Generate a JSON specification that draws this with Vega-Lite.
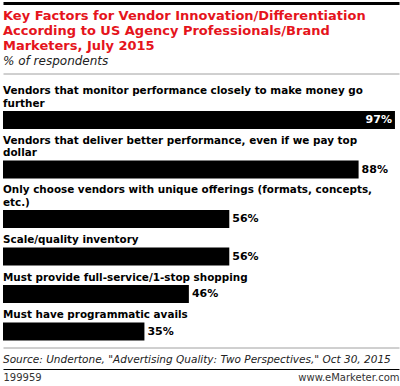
{
  "$schema": "https://vega.github.io/schema/vega-lite/v6.json",
  "padding": {"left": 3, "right": 1, "top": 3, "bottom": 1},
  "background": "white",
  "datasets": {
    "d": [
      {"rank": 1, "factor": "Vendors that monitor performance closely to make money go further", "share": 0.97},
      {"rank": 2, "factor": "Vendors that deliver better performance, even if we pay top dollar", "share": 0.88},
      {"rank": 3, "factor": "Only choose vendors with unique offerings (formats, concepts, etc.)", "share": 0.56},
      {"rank": 4, "factor": "Scale/quality inventory", "share": 0.56},
      {"rank": 5, "factor": "Must provide full-service/1-stop shopping", "share": 0.46},
      {"rank": 6, "factor": "Must have programmatic avails", "share": 0.35}
    ]
  },
  "data": {"name": "d"},
  "config": {
    "font": "DejaVu Sans",
    "view": {"stroke": null},
    "concat": {"spacing": 6.5},
    "title": {"anchor": "start", "font": "DejaVu Sans", "fontSize": 10.4, "fontWeight": "bold", "color": "#000", "lineHeight": 12.5, "offset": 2}
  },
  "vconcat": [
    {
      "width": 396, "height": 1,
      "title": {
        "text": ["Key Factors for Vendor Innovation/Differentiation", "According to US Agency Professionals/Brand", "Marketers, July 2015"],
        "subtitle": "% of respondents",
        "orient": "bottom", "anchor": "start",
        "color": "#e5141c", "fontSize": 13, "fontWeight": "bold", "lineHeight": 15,
        "subtitleFont": "DejaVu Sans", "subtitleFontStyle": "italic", "subtitleFontSize": 12, "subtitleColor": "#222", "subtitlePadding": 3,
        "offset": 6
      },
      "transform": [{"filter": "false"}],
      "mark": "bar",
      "encoding": {"x": {"field": "share", "type": "quantitative", "scale": {"domain": [0, 0.98]},
        "axis": {"orient": "top", "title": null, "labels": false, "ticks": false, "grid": false, "domainColor": "#000", "domainWidth": 3}}}
    },
    {
      "width": 396, "height": 6,
      "transform": [{"filter": "false"}],
      "mark": "bar",
      "encoding": {"x": {"field": "share", "type": "quantitative", "scale": {"domain": [0, 0.98]},
        "axis": {"orient": "top", "title": null, "labels": false, "ticks": false, "grid": false, "domainColor": "#a0a0a0", "domainWidth": 1}}}
    },
    {
      "width": 396, "height": 18,
      "title": {"text": ["Vendors that monitor performance closely to make money go", "further"]},
      "transform": [{"filter": "datum.rank == 1"}],
      "encoding": {
        "y": {"field": "factor", "type": "nominal", "axis": null, "scale": {"paddingInner": 0, "paddingOuter": 0}},
        "x": {"field": "share", "type": "quantitative", "axis": null, "scale": {"domain": [0, 0.98]}}
      },
      "layer": [
        {"mark": {"type": "bar", "color": "#000"}},
        {"mark": {"type": "text", "align": "right", "dx": -3, "fontWeight": "bold", "fontSize": 11, "color": "#fff"}, "encoding": {"text": {"field": "share", "type": "quantitative", "format": ".0%"}}}
      ]
    },
    {
      "width": 396, "height": 18,
      "title": {"text": ["Vendors that deliver better performance, even if we pay top", "dollar"]},
      "transform": [{"filter": "datum.rank == 2"}],
      "encoding": {
        "y": {"field": "factor", "type": "nominal", "axis": null, "scale": {"paddingInner": 0, "paddingOuter": 0}},
        "x": {"field": "share", "type": "quantitative", "axis": null, "scale": {"domain": [0, 0.98]}}
      },
      "layer": [
        {"mark": {"type": "bar", "color": "#000"}},
        {"mark": {"type": "text", "align": "left", "dx": 3, "fontWeight": "bold", "fontSize": 11, "color": "#000"}, "encoding": {"text": {"field": "share", "type": "quantitative", "format": ".0%"}}}
      ]
    },
    {
      "width": 396, "height": 18,
      "title": {"text": ["Only choose vendors with unique offerings (formats, concepts,", "etc.)"]},
      "transform": [{"filter": "datum.rank == 3"}],
      "encoding": {
        "y": {"field": "factor", "type": "nominal", "axis": null, "scale": {"paddingInner": 0, "paddingOuter": 0}},
        "x": {"field": "share", "type": "quantitative", "axis": null, "scale": {"domain": [0, 0.98]}}
      },
      "layer": [
        {"mark": {"type": "bar", "color": "#000"}},
        {"mark": {"type": "text", "align": "left", "dx": 3, "fontWeight": "bold", "fontSize": 11, "color": "#000"}, "encoding": {"text": {"field": "share", "type": "quantitative", "format": ".0%"}}}
      ]
    },
    {
      "width": 396, "height": 18,
      "title": {"text": "Scale/quality inventory"},
      "transform": [{"filter": "datum.rank == 4"}],
      "encoding": {
        "y": {"field": "factor", "type": "nominal", "axis": null, "scale": {"paddingInner": 0, "paddingOuter": 0}},
        "x": {"field": "share", "type": "quantitative", "axis": null, "scale": {"domain": [0, 0.98]}}
      },
      "layer": [
        {"mark": {"type": "bar", "color": "#000"}},
        {"mark": {"type": "text", "align": "left", "dx": 3, "fontWeight": "bold", "fontSize": 11, "color": "#000"}, "encoding": {"text": {"field": "share", "type": "quantitative", "format": ".0%"}}}
      ]
    },
    {
      "width": 396, "height": 18,
      "title": {"text": "Must provide full-service/1-stop shopping"},
      "transform": [{"filter": "datum.rank == 5"}],
      "encoding": {
        "y": {"field": "factor", "type": "nominal", "axis": null, "scale": {"paddingInner": 0, "paddingOuter": 0}},
        "x": {"field": "share", "type": "quantitative", "axis": null, "scale": {"domain": [0, 0.98]}}
      },
      "layer": [
        {"mark": {"type": "bar", "color": "#000"}},
        {"mark": {"type": "text", "align": "left", "dx": 3, "fontWeight": "bold", "fontSize": 11, "color": "#000"}, "encoding": {"text": {"field": "share", "type": "quantitative", "format": ".0%"}}}
      ]
    },
    {
      "width": 396, "height": 18,
      "title": {"text": "Must have programmatic avails"},
      "transform": [{"filter": "datum.rank == 6"}],
      "encoding": {
        "y": {"field": "factor", "type": "nominal", "axis": null, "scale": {"paddingInner": 0, "paddingOuter": 0}},
        "x": {"field": "share", "type": "quantitative", "scale": {"domain": [0, 0.98]},
              "axis": {"orient": "bottom", "title": null, "labels": false, "ticks": false, "grid": false, "domainColor": "#a0a0a0", "offset": 7}}
      },
      "layer": [
        {"mark": {"type": "bar", "color": "#000"}},
        {"mark": {"type": "text", "align": "left", "dx": 3, "fontWeight": "bold", "fontSize": 11, "color": "#000"}, "encoding": {"text": {"field": "share", "type": "quantitative", "format": ".0%"}}}
      ]
    },
    {
      "width": 396, "height": 1,
      "title": {"text": "Source: Undertone, \"Advertising Quality: Two Perspectives,\" Oct 30, 2015", "fontWeight": "normal", "fontStyle": "italic", "fontSize": 10.5, "color": "#222", "offset": 3},
      "transform": [{"filter": "false"}],
      "mark": "bar",
      "encoding": {"x": {"field": "share", "type": "quantitative", "scale": {"domain": [0, 0.98]},
        "axis": {"orient": "bottom", "title": null, "values": [0, 0.98], "labelExpr": "datum.value == 0 ? '199959' : 'www.eMarketer.com'", "labelFlush": true, "ticks": false, "grid": false, "domainColor": "#000", "labelFontSize": 10, "labelColor": "#333", "labelPadding": 3}}}
    }
  ]
}
